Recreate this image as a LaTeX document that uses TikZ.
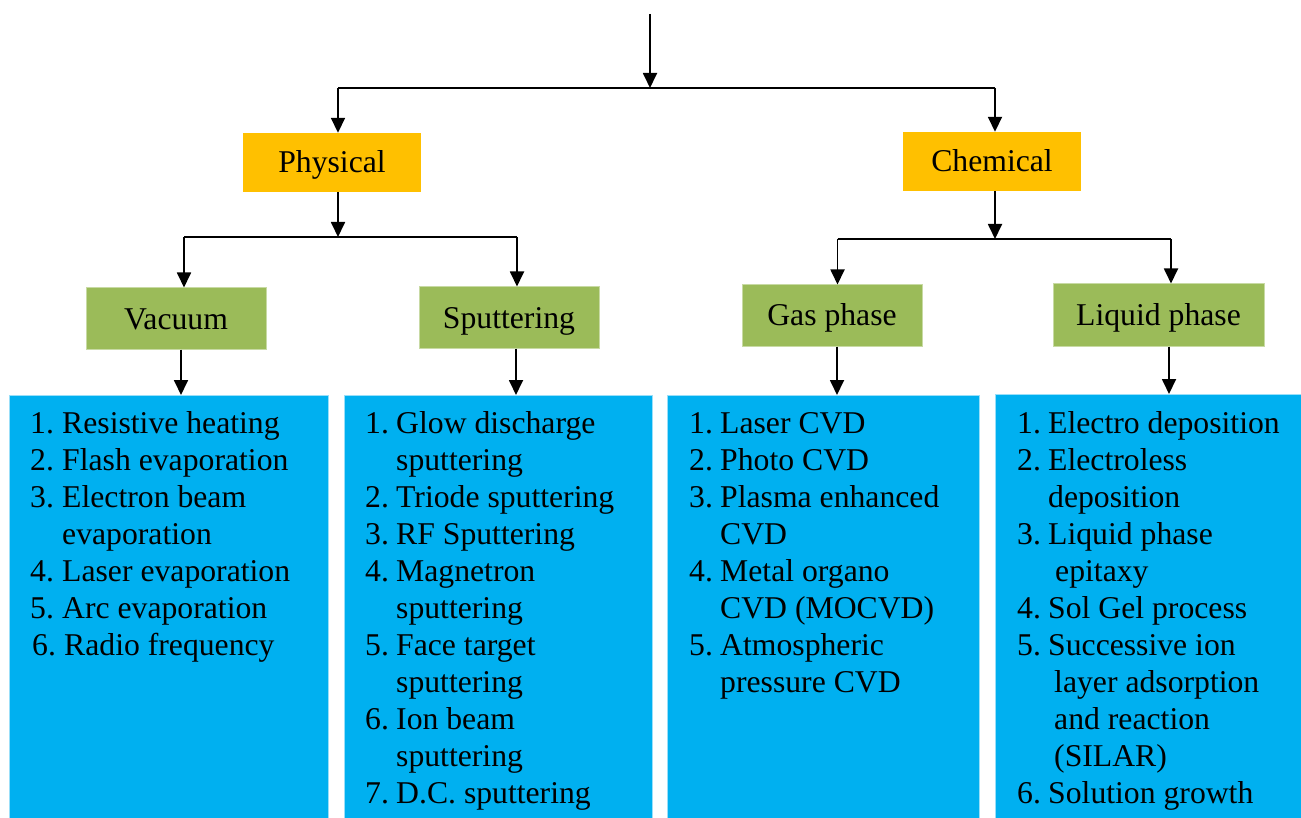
\documentclass[tikz,border=0pt]{standalone}
\usepackage{fontspec}
\setmainfont{Liberation Serif}
\usetikzlibrary{arrows.meta}
\definecolor{headorange}{HTML}{FFC000}
\definecolor{subgreen}{HTML}{9BBB59}
\definecolor{listblue}{HTML}{00B0F0}
\begin{document}
\begin{tikzpicture}[x=1pt,y=-1pt,
  every node/.style={font=\fontsize{31.7}{37}\selectfont},
  box/.style={rectangle, inner sep=0pt, text height=21pt, text depth=0pt},
  levelone/.style={box, fill=headorange},
  leveltwo/.style={box, fill=subgreen, draw=subgreen!55!white, line width=1pt},
  listbox/.style={rectangle, inner sep=0pt, fill=listblue, draw=listblue!40!white, line width=1pt},
  item/.style={anchor=base west, inner sep=0pt},
  link/.style={line width=1.8pt},
  arr/.style={link, -{Triangle[length=15pt,width=14pt]}}
]
\useasboundingbox (0,0) rectangle (1301,818);
\clip (0,0) rectangle (1301,818);

% first level
\node[levelone, minimum width=178pt, minimum height=59pt] (phys) at (332,162.5) {Physical};
\node[levelone, minimum width=178pt, minimum height=59pt] (chem) at (992,161.5) {Chemical};

% second level
\node[leveltwo, minimum width=180pt, minimum height=61pt] (vac)  at (176,318.5)  {Vacuum};
\node[leveltwo, minimum width=180pt, minimum height=61pt] (sput) at (509,317.5)  {Sputtering};
\node[leveltwo, minimum width=180pt, minimum height=61pt] (gas)  at (832,315.5)  {Gas phase};
\node[leveltwo, minimum width=211pt, minimum height=62pt] (liq)  at (1158.5,315) {Liquid phase};

% list panels
\node[listbox, minimum width=319pt, minimum height=440pt, anchor=north west] (b1) at (9,395) {};
\node[listbox, minimum width=308pt, minimum height=440pt, anchor=north west] (b2) at (344,395) {};
\node[listbox, minimum width=312pt, minimum height=440pt, anchor=north west] (b3) at (667,395) {};
\node[listbox, minimum width=320pt, minimum height=440pt, anchor=north west] (b4) at (995,394) {};

% list entries: number x / number / text x / text
\foreach \m/\n/\x/\t [count=\k from 0] in {
  30/1./62/Resistive heating, 30/2./62/Flash evaporation, 30/3./62/Electron beam,
  30//62/evaporation, 30/4./62/Laser evaporation, 30/5./62/Arc evaporation,
  32/6./64/Radio frequency}
{
  \node[item] (b1n\k) at (\m,{433+37*\k}) {\n};
  \node[item] (b1t\k) at (\x,{433+37*\k}) {\t};
}

\foreach \n/\t [count=\k from 0] in {
  1./Glow discharge, /sputtering, 2./Triode sputtering, 3./RF Sputtering,
  4./Magnetron, /sputtering, 5./Face target, /sputtering, 6./Ion beam,
  /sputtering, 7./D.C. sputtering}
{
  \node[item] (b2n\k) at (365,{433+37*\k}) {\n};
  \node[item] (b2t\k) at (396,{433+37*\k}) {\t};
}

\foreach \n/\t [count=\k from 0] in {
  1./Laser CVD, 2./Photo CVD, 3./Plasma enhanced, /CVD, 4./Metal organo,
  /CVD (MOCVD), 5./Atmospheric, /pressure CVD}
{
  \node[item] (b3n\k) at (689,{433+37*\k}) {\n};
  \node[item] (b3t\k) at (720,{433+37*\k}) {\t};
}

\foreach \n/\t/\x [count=\k from 0] in {
  1./Electro deposition/1048, 2./Electroless/1048, /deposition/1048,
  3./Liquid phase/1048, /epitaxy/1055, 4./Sol Gel process/1048,
  5./Successive ion/1048, /layer adsorption/1054, /and reaction/1054,
  /(SILAR)/1054, 6./Solution growth/1048}
{
  \node[item] (b4n\k) at (1017,{433+37*\k}) {\n};
  \node[item] (b4t\k) at (\x,{433+37*\k}) {\t};
}

% connectors
\coordinate (start) at (650,14);
\coordinate (j0) at (650,88);
\coordinate (jl) at (338,88);
\coordinate (jr) at (995,88);
\draw[arr] (start) -- (j0);
\draw[link] (jl) -- (jr);
\draw[arr] (jl) -- ([xshift=6pt]phys.north);
\draw[arr] (jr) -- ([xshift=3pt]chem.north);

\coordinate (p0) at (338,237);
\coordinate (pl) at (184,237);
\coordinate (pr) at (517,237);
\draw[arr] ([xshift=6pt]phys.south) -- (p0);
\draw[link] (pl) -- (pr);
\draw[arr] (pl) -- ([xshift=8pt]vac.north);
\draw[arr] (pr) -- ([xshift=8pt]sput.north);

\coordinate (c0) at (995,239);
\coordinate (cl) at (837.5,239);
\coordinate (cr) at (1171,239);
\draw[arr] ([xshift=3pt]chem.south) -- (c0);
\draw[link] (cl) -- (cr);
\draw[arr] (cl) -- ([xshift=5.5pt]gas.north);
\draw[arr] (cr) -- ([xshift=12.5pt]liq.north);

\draw[arr] ([xshift=5pt]vac.south) -- (b1.north -| 181,0);
\draw[arr] ([xshift=7pt]sput.south) -- (b2.north -| 516,0);
\draw[arr] ([xshift=5pt]gas.south) -- (b3.north -| 837,0);
\draw[arr] ([xshift=10.5pt]liq.south) -- (b4.north -| 1169,0);
\end{tikzpicture}
\end{document}
